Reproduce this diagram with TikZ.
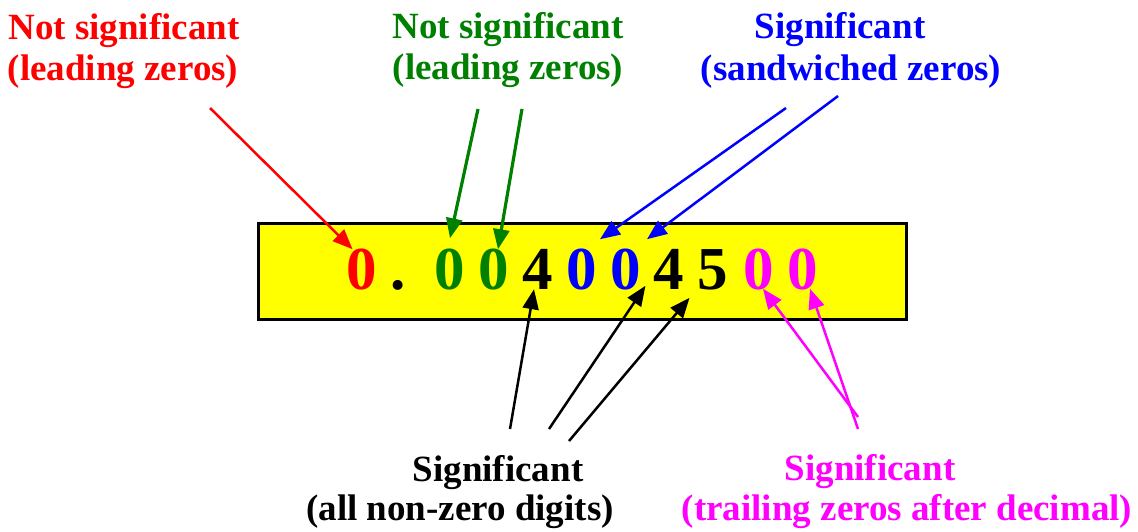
\documentclass[tikz,border=0pt]{standalone}
\usepackage{fontspec}
\setmainfont{Liberation Serif}
\usetikzlibrary{arrows.meta,calc}
\definecolor{cred}{RGB}{255,0,0}
\definecolor{cgreen}{RGB}{0,128,0}
\definecolor{cblue}{RGB}{0,0,255}
\definecolor{cmag}{RGB}{255,0,255}
\definecolor{cyel}{RGB}{255,255,0}
\begin{document}
\begin{tikzpicture}[x=1pt,y=-1pt,
  lbl/.style={font=\fontsize{37}{40}\selectfont\bfseries, inner sep=0, anchor=base},
  dig/.style={font=\fontsize{61}{61}\selectfont\bfseries, inner sep=0, anchor=base},
  arr/.style={line width=2.5pt, -{Triangle[length=20pt,width=16pt]}},
  numbox/.style={draw=black, line width=2.5pt, fill=cyel, inner sep=0}]
\useasboundingbox (0,0) rectangle (1138,531);
% number box
\node[numbox, minimum width=648pt, minimum height=96pt, anchor=north west] (box) at (257,222) {};
% digits
\node[dig, text=cred]   (d1)  at (362,289) {0};
\node[dig]              (dot) at (398,289) {.};
\node[dig, text=cgreen] (d2)  at (450,289) {0};
\node[dig, text=cgreen] (d3)  at (494,289) {0};
\node[dig]              (d4)  at (538,289) {4};
\node[dig, text=cblue]  (d5)  at (582,289) {0};
\node[dig, text=cblue]  (d6)  at (626,289) {0};
\node[dig]              (d7)  at (669,289) {4};
\node[dig]              (d8)  at (713,289) {5};
\node[dig, text=cmag]   (d9)  at (759,289) {0};
\node[dig, text=cmag]   (d10) at (803,289) {0};
% labels
\node[lbl, text=cred]   (r1) at (124,39) {Not significant};
\node[lbl, text=cred]   (r2) at (123,80) {(leading zeros)};
\node[lbl, text=cgreen] (g1) at (508,38) {Not significant};
\node[lbl, text=cgreen] (g2) at (508,79) {(leading zeros)};
\node[lbl, text=cblue]  (b1) at (840,38) {Significant};
\node[lbl, text=cblue]  (b2) at (851,80) {(sandwiched zeros)};
\node[lbl]              (k1) at (498,481) {Significant};
\node[lbl]              (k2) at (460,520) {(all non-zero digits)};
\node[lbl, text=cmag]   (m1) at (870,480) {Significant};
\node[lbl, text=cmag]   (m2) at (907,520) {(trailing zeros after decimal)};
% arrow start points
\coordinate (rs)  at (210,108);
\coordinate (gs1) at (478,109);
\coordinate (gs2) at (522,109);
\coordinate (bs1) at (786,108);
\coordinate (bs2) at (838,96);
\coordinate (ks1) at (510,429);
\coordinate (ks2) at (549,429);
\coordinate (ks3) at (569,441);
\coordinate (ms1) at (858,417);
\coordinate (ms2) at (858,429);
% arrows
\draw[arr, cred] (rs) -- ($(d1.north west)+(6,1)$);
\draw[arr, cgreen, line width=3.2pt] (gs1) -- ($(d2.north)+(0,-10)$);
\draw[arr, cgreen, line width=3.2pt] (gs2) -- ($(d3.north)+(4,1)$);
\draw[arr, cblue] (bs1) -- ($(d5.north)+(18,-9)$);
\draw[arr, cblue] (bs2) -- ($(d6.north)+(21,-9)$);
\draw[arr, black] (ks1) -- ($(d4.south)+(-4,0)$);
\draw[arr, black] (ks2) -- ($(d6.south east)+(4,-4)$);
\draw[arr, black] (ks3) -- ($(d8.south west)+(-8,8)$);
\draw[arr, cmag] (ms1) -- ($(d9.south)+(4,-1)$);
\draw[arr, cmag] (ms2) -- ($(d10.south)+(7,-1)$);
\end{tikzpicture}
\end{document}
